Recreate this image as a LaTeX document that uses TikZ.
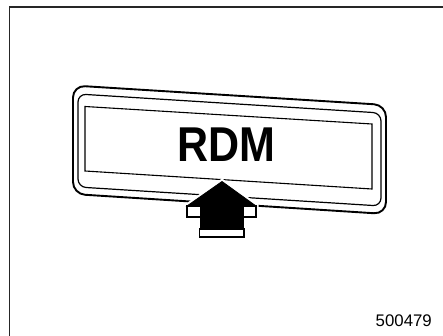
\documentclass[tikz,border=0pt]{standalone}
\usepackage{fontspec}
\setmainfont{Liberation Sans}
\begin{document}
\begin{tikzpicture}[x=1pt,y=-1pt,
  frameline/.style={line width=1.6pt,black!85},
  outerring/.style={line width=1.9pt,rounded corners=12pt},
  midring/.style={line width=1.2pt,rounded corners=8pt},
  innerring/.style={line width=1.1pt},
  halo/.style={draw=white,fill=white,line width=5pt,line join=miter},
  blackpart/.style={fill=black,draw=black,line width=0.8pt,line join=miter},
  whitepart/.style={fill=white,draw=black,line width=1.1pt}]
\useasboundingbox (0,0) rectangle (443,336);
% frame (top and left only)
\coordinate (fbl) at (9.3,336);
\coordinate (ftl) at (9.3,7.3);
\coordinate (ftr) at (443,7.3);
\draw[frameline] (fbl) -- (ftl) -- (ftr);
% panel rings
\draw[outerring] (73,85.5) -- (386,105) -- (386,214) -- (73,194) -- cycle;
\draw[midring] (78,94) -- (381,113) -- (381,206) -- (78,187) -- cycle;
\draw[innerring] (85,106.5) -- (372,124) -- (372,189) -- (85,171) -- cycle;
% label
\node[font=\bfseries\fontsize{48.9}{50}\selectfont, inner sep=0pt, xscale=0.88] (rdm) at (226,144.5) {RDM};
% arrow
\fill[halo] (222,181.5) -- (187,206) -- (187,217) -- (199,217) -- (199,237) -- (244,237) -- (244,217) -- (256,217) -- (256,206) -- cycle;
\filldraw[blackpart] (222,181.5) -- (187,206) -- (256,206) -- cycle;
\filldraw[blackpart] (200,205) rectangle (243.5,229);
\filldraw[whitepart] (187,206) rectangle (200.5,217);
\filldraw[whitepart] (243,206) rectangle (256,217);
\filldraw[whitepart] (199.5,229) rectangle (244,237);
% figure number
\node[font=\fontsize{16.8}{18}\selectfont, inner sep=0pt, anchor=base east] (num) at (432,326) {500479};
\end{tikzpicture}
\end{document}
